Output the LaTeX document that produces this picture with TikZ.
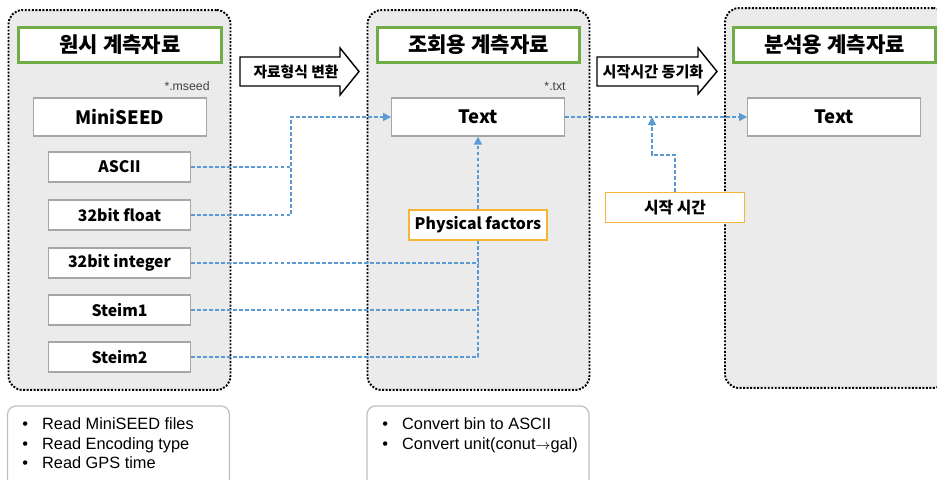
\documentclass[tikz,border=0pt]{standalone}
\usepackage{fontspec}
\setmainfont{Liberation Sans}
\newfontfamily\krfont{Noto Sans CJK KR}
\usetikzlibrary{arrows.meta,positioning}
\definecolor{panelGray}{HTML}{EBEBEB}
\definecolor{titleGreen}{HTML}{70AD47}
\definecolor{boxGray}{HTML}{A6A6A6}
\definecolor{keyOrange}{HTML}{F7B538}
\definecolor{flowBlue}{HTML}{5B9BD5}
\definecolor{noteGray}{HTML}{BFBFBF}
\newcommand{\krb}[1]{\fontsize{#1}{#1}\selectfont\krfont\bfseries}

\begin{document}
\begin{tikzpicture}[x=0.02cm,y=-0.02cm,node distance=0.33cm,
    panel/.style={draw=black,line width=1.1pt,dash pattern=on 1.1pt off 0.9pt,
      fill=panelGray,rounded corners=0.28cm,minimum width=4.44cm,minimum height=7.6cm},
    titlebox/.style={draw=titleGreen,line width=1.7pt,fill=white,
      minimum width=4.06cm,minimum height=0.7cm,font=\krb{12}},
    databox/.style={draw=boxGray,line width=0.8pt,fill=white,
      minimum width=3.45cm,minimum height=0.76cm,font=\krb{10.5}},
    fmtbox/.style={draw=boxGray,line width=0.8pt,fill=white,
      minimum width=2.83cm,minimum height=0.6cm,font=\krb{9}},
    keybox/.style={draw=keyOrange,line width=0.9pt,fill=white,
      minimum height=0.6cm,font=\krb{9}},
    notebox/.style={draw=noteGray,line width=0.7pt,fill=white,rounded corners=0.17cm,
      minimum width=4.44cm,minimum height=1.8cm},
    ext/.style={font=\fontsize{7}{7}\selectfont,text=black!75,inner sep=0pt},
    bullets/.style={align=left,inner sep=0pt,font=\fontsize{9.3}{11.3}\selectfont},
    bigarrow/.style={draw=black,line width=0.8pt,fill=white},
    flow/.style={draw=flowBlue,line width=0.9pt,dash pattern=on 2.2pt off 1.2pt},
    flowarrow/.style={flow,-{Triangle[length=4.5pt,width=4.5pt]}}]
  \useasboundingbox (0,0) rectangle (937,480);

  % three stages
  \node[panel] (rawpanel) at (119.5,200) {};
  \node[panel] (viewpanel) at (478.5,200) {};
  \node[panel] (anapanel) at (836,198) {};

  \node[titlebox] (rawtitle) at (120,45) {원시 계측자료};
  \node[titlebox] (viewtitle) at (478.5,45) {조회용 계측자료};
  \node[titlebox] (anatitle) at (834.5,45) {분석용 계측자료};

  % notes under the panels
  \node[notebox] (rawnote) at (118.5,451) {};
  \node[notebox] (viewnote) at (478,451) {};
  \node[bullets,anchor=north west] (rawlist) at (22,417)
    {•\hspace{8pt}Read MiniSEED files\\
     •\hspace{8pt}Read Encoding type\\
     •\hspace{8pt}Read GPS time};
  \node[bullets,anchor=north west] (viewlist) at (382,417)
    {•\hspace{8pt}Convert bin to ASCII\\
     •\hspace{8pt}Convert unit(conut{\fontsize{8.5}{8.5}\selectfont$\rightarrow$}gal)};

  % block arrows between the stages
  \draw[bigarrow] (240,57) -- (340,57) -- (340,48) -- (359,71.5) -- (340,95)
    -- (340,86) -- (240,86) -- cycle;
  \node[font=\krb{8.4}] (convert) at (296,71.5) {자료형식 변환};
  \draw[bigarrow] (597,57) -- (698,57) -- (698,48) -- (717,71.5) -- (698,94)
    -- (698,86) -- (597,86) -- cycle;
  \node[font=\krb{8.6}] (sync) at (653,71.5) {시작시간 동기화};

  % raw data
  \node[ext,anchor=east] (mseedext) at (210,86) {*.mseed};
  \node[databox] (miniseed) at (120,117) {MiniSEED};
  \node[fmtbox] (ascii) at (119.5,167) {ASCII};
  \node[fmtbox] (float) at (119.5,215) {32bit float};
  \node[fmtbox] (integer) at (119.5,263) {32bit integer};
  \node[fmtbox] (steima) at (119.5,310) {Steim1};
  \node[fmtbox] (steimb) at (119.5,357) {Steim2};

  % viewing and analysis data
  \node[ext,anchor=east] (txtext) at (566,86) {*.txt};
  \node[databox] (viewtext) at (478,117) {Text};
  \node[databox] (anatext) at (834,117) {Text};
  \node[keybox] (factors) at (478,225) {Physical factors};
  \node[keybox,minimum width=2.78cm] (starttime) at (675,207.5) {시작 시간};

  \coordinate (joinA) at (291,117);
  \coordinate (syncpt) at (652,117);

  \draw[flow] (ascii.east) -- (ascii.east -| joinA);
  \draw[flowarrow] (float.east) -| (joinA) -- (viewtext.west);
  \draw[flow] (integer.east) -- (integer.east -| factors.south);
  \draw[flow] (steima.east) -- (steima.east -| factors.south);
  \draw[flow] (steimb.east) -| (factors.south);
  \draw[flowarrow] (factors.north) -- (viewtext.south);
  \draw[flowarrow] (viewtext.east) -- (anatext.west);
  \draw[flowarrow] (starttime.north) -- ++(0,-37) -| (syncpt);
\end{tikzpicture}
\end{document}
